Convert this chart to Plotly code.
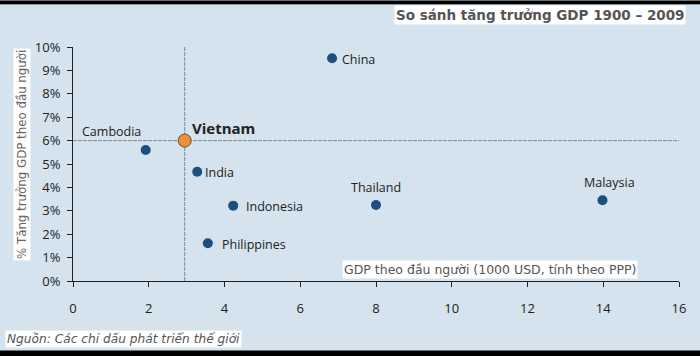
import plotly.graph_objects as go

countries = ["China", "Cambodia", "India", "Indonesia", "Philippines", "Thailand", "Malaysia"]
gdp_pc = [6.84, 1.92, 3.28, 4.23, 3.56, 8.0, 13.98]
growth = [9.52, 5.6, 4.67, 3.22, 1.61, 3.25, 3.45]
vn_name = "Vietnam"
vn_gdp = 2.95
vn_growth = 6.0

x_ticks = [0, 2, 4, 6, 8, 10, 12, 14, 16]
y_ticks = [0, 1, 2, 3, 4, 5, 6, 7, 8, 9, 10]

W, H = 700, 356
ML, MR, MT, MB = 73, 21, 47, 75
PH = H - MT - MB
PW = W - ML - MR

def py(pix):
    return (H - MB - pix) / PH

def px(pix):
    return (pix - ML) / PW

BG = "#d4e3ed"
BLUE = "#1c4f7e"
ORANGE = "#e8923f"

fig = go.Figure()
fig.add_trace(go.Scatter(x=gdp_pc, y=growth, mode="markers",
                         marker=dict(size=10, color=BLUE), hoverinfo="skip"))
fig.add_trace(go.Scatter(x=[vn_gdp], y=[vn_growth], mode="markers",
                         marker=dict(size=13, color=ORANGE, line=dict(color="#7a4a1a", width=1)),
                         hoverinfo="skip"))

lab = {
    "China": dict(xanchor="left", yanchor="middle", xshift=8, yshift=-1),
    "Cambodia": dict(xanchor="right", yanchor="bottom", xshift=-3, yshift=8),
    "India": dict(xanchor="left", yanchor="middle", xshift=6, yshift=-1),
    "Indonesia": dict(xanchor="left", yanchor="middle", xshift=11, yshift=-1),
    "Philippines": dict(xanchor="left", yanchor="middle", xshift=12, yshift=-1),
    "Thailand": dict(xanchor="center", yanchor="bottom", xshift=0, yshift=7),
    "Malaysia": dict(xanchor="center", yanchor="bottom", xshift=7, yshift=7),
}
annotations = []
for c, xv, yv in zip(countries, gdp_pc, growth):
    a = lab[c]
    annotations.append(dict(x=xv, y=yv, xref="x", yref="y", text=c, showarrow=False,
                            font=dict(family="Open Sans", size=12.5, color="#222222"), **a))
annotations.append(dict(x=vn_gdp, y=vn_growth, xref="x", yref="y", text="<b>" + vn_name + "</b>",
                        showarrow=False, xanchor="left", yanchor="bottom", xshift=5, yshift=1,
                        font=dict(family="Open Sans", size=15, color="#222222")))

annotations.append(dict(x=px(686), y=py(15), xref="paper", yref="paper", xanchor="right", yanchor="middle",
                        text="<b>So sánh tăng trưởng GDP 1900 – 2009</b>", showarrow=False,
                        bgcolor="white", borderpad=1,
                        font=dict(family="DejaVu Sans", size=13.5, color="#555555")))
annotations.append(dict(x=px(490), y=py(269), xref="paper", yref="paper", xanchor="center", yanchor="middle",
                        text="GDP theo đầu người (1000 USD, tính theo PPP)", showarrow=False,
                        bgcolor="white", borderpad=1,
                        font=dict(family="DejaVu Sans", size=12.5, color="#555555")))
annotations.append(dict(x=px(22), y=py(155), xref="paper", yref="paper", xanchor="center", yanchor="middle",
                        text="% Tăng trưởng GDP theo đầu người", showarrow=False, textangle=-90,
                        bgcolor="white", borderpad=1,
                        font=dict(family="DejaVu Sans", size=11.8, color="#666666")))
annotations.append(dict(x=px(5), y=py(339), xref="paper", yref="paper", xanchor="left", yanchor="middle",
                        text="<i>Nguồn: Các chỉ dấu phát triển thế giới</i>", showarrow=False,
                        bgcolor="white", borderpad=1,
                        font=dict(family="DejaVu Sans", size=12.2, color="#555555")))

DASH = dict(color="#7d8a94", width=1, dash="4px,1px")
shapes = [
    dict(type="line", xref="x", yref="y", x0=vn_gdp, x1=vn_gdp, y0=0, y1=10.1,
         line=DASH, layer="below"),
    dict(type="line", xref="x", yref="y", x0=0, x1=16, y0=vn_growth, y1=vn_growth,
         line=DASH, layer="below"),
    dict(type="rect", xref="paper", yref="paper", x0=px(0), x1=px(700), y0=py(4), y1=py(0.5),
         fillcolor="black", line=dict(width=0), layer="above"),
    dict(type="line", xref="paper", yref="paper", x0=px(0), x1=px(700), y0=py(4.5), y1=py(4.5),
         line=dict(color="#8c9aa3", width=1)),
    dict(type="rect", xref="paper", yref="paper", x0=px(0), x1=px(700), y0=py(356), y1=py(350.5),
         fillcolor="black", line=dict(width=0)),
]

fig.update_layout(
    width=W, height=H, margin=dict(l=ML, r=MR, t=MT, b=MB, autoexpand=False),
    paper_bgcolor=BG, plot_bgcolor=BG, showlegend=False,
    annotations=annotations, shapes=shapes,
    xaxis=dict(range=[0, 16], tickvals=x_ticks, ticktext=[str(v) for v in x_ticks],
               showgrid=False, zeroline=False, showline=True, linecolor="#222222", linewidth=1,
               ticks="outside", ticklen=5, tickcolor="#222222", ticklabelstandoff=10,
               automargin=False,
               tickfont=dict(family="Open Sans", size=13, color="#222222"), fixedrange=True),
    yaxis=dict(range=[0, 10], tickvals=y_ticks, ticktext=[f"{v}%" for v in y_ticks],
               showgrid=False, zeroline=False, showline=True, linecolor="#222222", linewidth=1,
               ticks="outside", ticklen=5, tickcolor="#222222", ticklabelstandoff=4,
               automargin=False,
               tickfont=dict(family="Open Sans", size=13, color="#222222"), fixedrange=True),
)

fig.write_html("out.html", config={"displayModeBar": False},
               post_script="document.body.style.margin='0px';document.body.style.overflow='hidden';")
